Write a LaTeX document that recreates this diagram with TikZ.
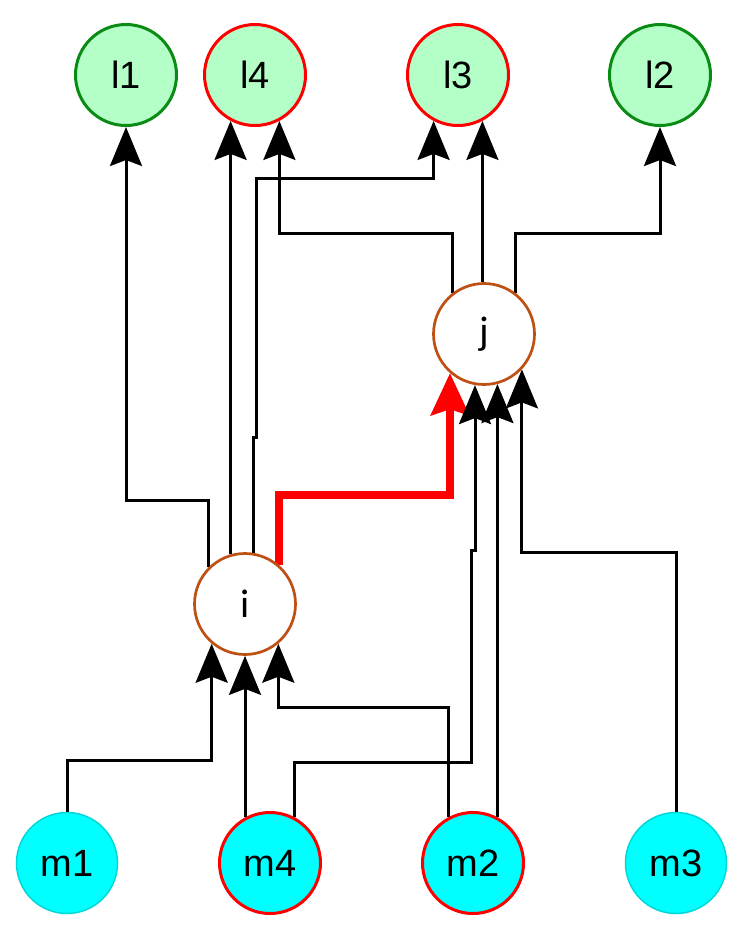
\documentclass[tikz,border=0pt]{standalone}
\usepackage{fontspec}
\setmainfont{Liberation Sans}
\newfontfamily\ijfont{Carlito}
\usetikzlibrary{arrows.meta}
\pgfdeclarelayer{background}
\pgfsetlayers{background,main}
\definecolor{lgreen}{RGB}{180,255,200}
\definecolor{dgreen}{RGB}{10,140,20}
\definecolor{cyanfill}{RGB}{0,255,255}
\definecolor{cyanedge}{RGB}{0,215,215}
\definecolor{brownedge}{RGB}{190,80,20}
\begin{document}
\begin{tikzpicture}[x=1pt,y=-1pt,
  vtx/.style={circle, inner sep=0pt, minimum size=101pt, line width=3pt},
  lg/.style={vtx, fill=lgreen, draw=dgreen, font=\fontsize{38}{40}\selectfont},
  lr/.style={vtx, fill=lgreen, draw=red, font=\fontsize{38}{40}\selectfont},
  mc/.style={vtx, fill=cyanfill, draw=cyanedge, line width=1.5pt, font=\fontsize{38}{40}\selectfont},
  mr/.style={vtx, fill=cyanfill, draw=red, font=\fontsize{38}{40}\selectfont},
  ij/.style={vtx, fill=white, draw=brownedge, line width=2.7pt, font=\ijfont\fontsize{40}{44}\selectfont},
  edge/.style={line width=3pt, -{Stealth[length=39pt,width=32pt,inset=6pt]}},
  rededge/.style={line width=8pt, draw=red, -{Stealth[length=42pt,width=38pt,inset=6pt]}}
]
\useasboundingbox (0,0) rectangle (737,927);
\node[lg] (l1) at (126,75) {l1};
\node[lr] (l4) at (255,75) {l4};
\node[lr] (l3) at (458,75) {l3};
\node[lg] (l2) at (660,75) {l2};
\node[ij] (j) at (484,334) {j};
\node[ij] (i) at (245,604) {i};
\node[mc] (m1) at (67,863) {m1};
\node[mr] (m4) at (270,863) {m4};
\node[mr] (m2) at (473,863) {m2};
\node[mc] (m3) at (676,863) {m3};
\begin{pgfonlayer}{background}
\draw[edge] (i.135) |- (l1.south |- 0,500) -- (l1.south);
\draw[edge] (i.107 -| l4.242) -- (l4.242);
\draw[edge] (i.81) |- (256,437) |- (l3.242 |- 0,178) -- (l3.242);
\draw[rededge] (i.49) |- (j.229 |- 0,495) -- (j.229);
\draw[edge] (m1.north) |- (i.230 |- 0,760) -- (i.230);
\draw[edge] (m4.118 -| i.south) -- (i.south);
\draw[edge] (m2.118) |- (i.310 |- 0,707) -- (i.310);
\draw[edge] (m4.62) |- (471,762) -- (471,550) -| (j.260);
\draw[edge] (m2.62 -| j.285) -- (j.285);
\draw[edge] (m3.north) |- (j.317 |- 0,552) -- (j.317);
\draw[edge] (j.128) |- (l4.298 |- 0,233) -- (l4.298);
\draw[edge] (j.north -| l3.298) -- (l3.298);
\draw[edge] (j.52) |- (l2.south |- 0,233) -- (l2.south);
\end{pgfonlayer}
\end{tikzpicture}
\end{document}
